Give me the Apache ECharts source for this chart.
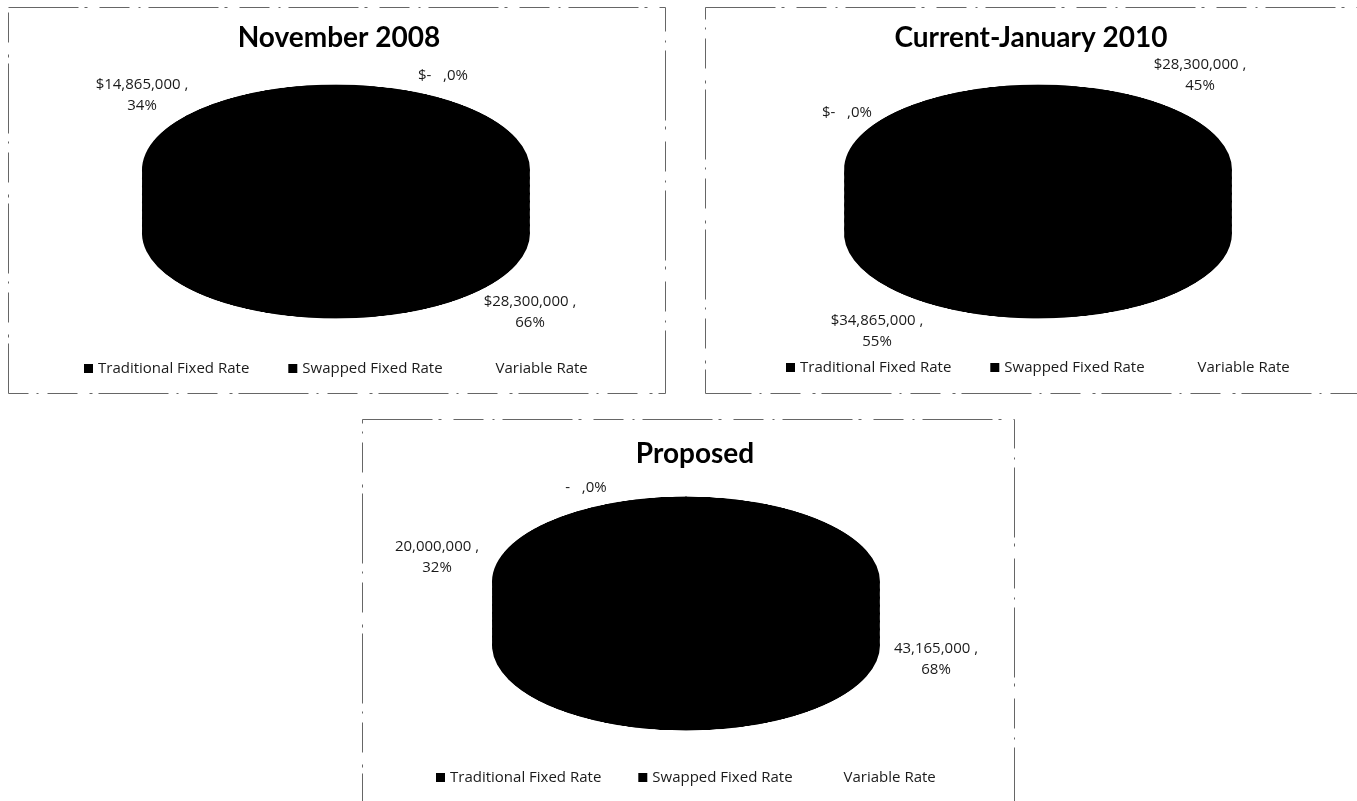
<!DOCTYPE html>
<html><head><meta charset="utf-8">
<script src="https://cdn.jsdelivr.net/npm/echarts@6/dist/echarts.min.js"></script>
<style>
html,body{margin:0;padding:0;background:#fff;overflow:hidden;width:1357px;height:801px;}
#pies{position:absolute;left:0;top:0;width:1357px;transform-origin:0 0;}
#main{position:absolute;left:0;top:0;width:1357px;height:801px;z-index:2;}
</style></head><body>
<div id="pies"></div><div id="main"></div>
<script>
// ---------- data ----------
const categories = ['Traditional Fixed Rate', 'Swapped Fixed Rate', 'Variable Rate'];
const chartTitles = ['November 2008', 'Current-January 2010', 'Proposed'];
const nov2008Values = [28300000, 14865000, 0];
const jan2010Values = [28300000, 34865000, 0];
const proposedValues = [43165000, 20000000, 0];
const valuePrefixes = ['$', '$', ''];
const seriesValues = [nov2008Values, jan2010Values, proposedValues];

// ---------- layout / style ----------
const RX = 193, RY = 85, DEPTH = 63;
const K = RY / RX;
const pieTops = [[336, 170], [1038, 170], [686, 582]];
const titlePos = [[339, 24], [1031, 24], [695, 440]];
const legendPos = [[84, 361], [786, 360], [436, 770]];
const legendGaps = [39, 39, 37];
const labelPos = [
  [[530, 312], [142, 95], [443, 76]],
  [[1200, 75], [877, 331], [847, 113]],
  [[936, 659], [437, 557], [586, 488]]
];
const frames = [[8, 7, 657, 386], [705, 7, 670, 386], [362, 419, 652, 400]];
const legendColors = ['#000', '#000', 'rgba(0,0,0,0)'];
const TITLE_FONT = 'Lato';
const TEXT_FONT = 'Open Sans';

// ---------- layer A: pie bodies (scaled to ellipses, extruded for 3-D look) ----------
const piesDiv = document.getElementById('pies');
piesDiv.style.height = Math.ceil(801 / K + 20) + 'px';
piesDiv.style.transform = 'scaleY(' + K + ')';
const chartA = echarts.init(piesDiv, null, {renderer: 'canvas'});
const bodySeries = [];
const STEPS = 4;
seriesValues.forEach((vals, i) => {
  const data = categories.map((c, j) => ({name: c, value: vals[j]}));
  const [cx, cy] = pieTops[i];
  for (let s = 0; s <= STEPS; s++) {
    const dy = DEPTH * s / STEPS;
    const off = s < STEPS ? DEPTH / STEPS / 2 : 0;
    bodySeries.push({
      type: 'pie', silent: true, animation: false,
      center: [cx, (cy + dy) / K], radius: [0, RX],
      label: {show: false}, labelLine: {show: false},
      itemStyle: {color: '#000', borderColor: '#000', borderWidth: 2,
                  shadowColor: off ? '#000' : 'rgba(0,0,0,0)', shadowBlur: 0, shadowOffsetY: off / K},
      emphasis: {disabled: true},
      data: data
    });
  }
});
chartA.setOption({animation: false, series: bodySeries});

// ---------- layer B: titles, legends, labels, frames ----------
const chartB = echarts.init(document.getElementById('main'), null, {renderer: 'canvas'});
const option = {
  animation: false,
  title: chartTitles.map((t, i) => ({
    text: t, left: titlePos[i][0], top: titlePos[i][1], textAlign: 'center', padding: 0,
    textStyle: {fontFamily: TITLE_FONT, fontWeight: 'bold', fontSize: 28, color: '#000'}
  })),
  legend: legendPos.map((p, i) => ({
    left: p[0], top: p[1], orient: 'horizontal', icon: 'rect', itemWidth: 9, itemHeight: 9,
    itemGap: legendGaps[i], padding: 0, selectedMode: false,
    textStyle: {fontFamily: TEXT_FONT, fontSize: 15, color: '#1a1a1a'},
    data: categories.map((c, j) => ({name: c, itemStyle: {color: legendColors[j]}}))
  })),
  graphic: frames.map(f => ({
    type: 'rect', silent: true,
    shape: {x: f[0] + 0.5, y: f[1] + 0.5, width: f[2], height: f[3]},
    style: {fill: 'none', stroke: '#666', lineWidth: 1, lineDash: [70, 6, 3, 12, 30, 9, 2, 8]}
  })),
  series: seriesValues.map((vals, i) => ({
    type: 'pie', animation: false, silent: true,
    center: [pieTops[i][0], pieTops[i][1] + DEPTH / 2], radius: [0, RX * 0.6],
    percentPrecision: 2,
    itemStyle: {color: 'rgba(0,0,0,0)', borderWidth: 0},
    emphasis: {disabled: true},
    labelLine: {show: false},
    label: {
      show: true, position: 'outside', fontFamily: TEXT_FONT, fontSize: 15, lineHeight: 21,
      color: '#1a1a1a', align: 'center',
      formatter: p => {
        const pre = valuePrefixes[p.seriesIndex];
        const pct = Math.round(p.percent);
        if (p.value === 0) return pre + '-   ,' + pct + '%';
        return pre + p.value.toLocaleString('en-US') + ' ,\n' + pct + '%';
      }
    },
    labelLayout: params => {
      const pos = labelPos[params.seriesIndex][params.dataIndex];
      return {x: pos[0], y: pos[1], align: 'center', verticalAlign: 'middle', hideOverlap: false};
    },
    data: categories.map((c, j) => ({name: c, value: vals[j]}))
  }))
};
chartB.setOption(option);
</script>
</body></html>
